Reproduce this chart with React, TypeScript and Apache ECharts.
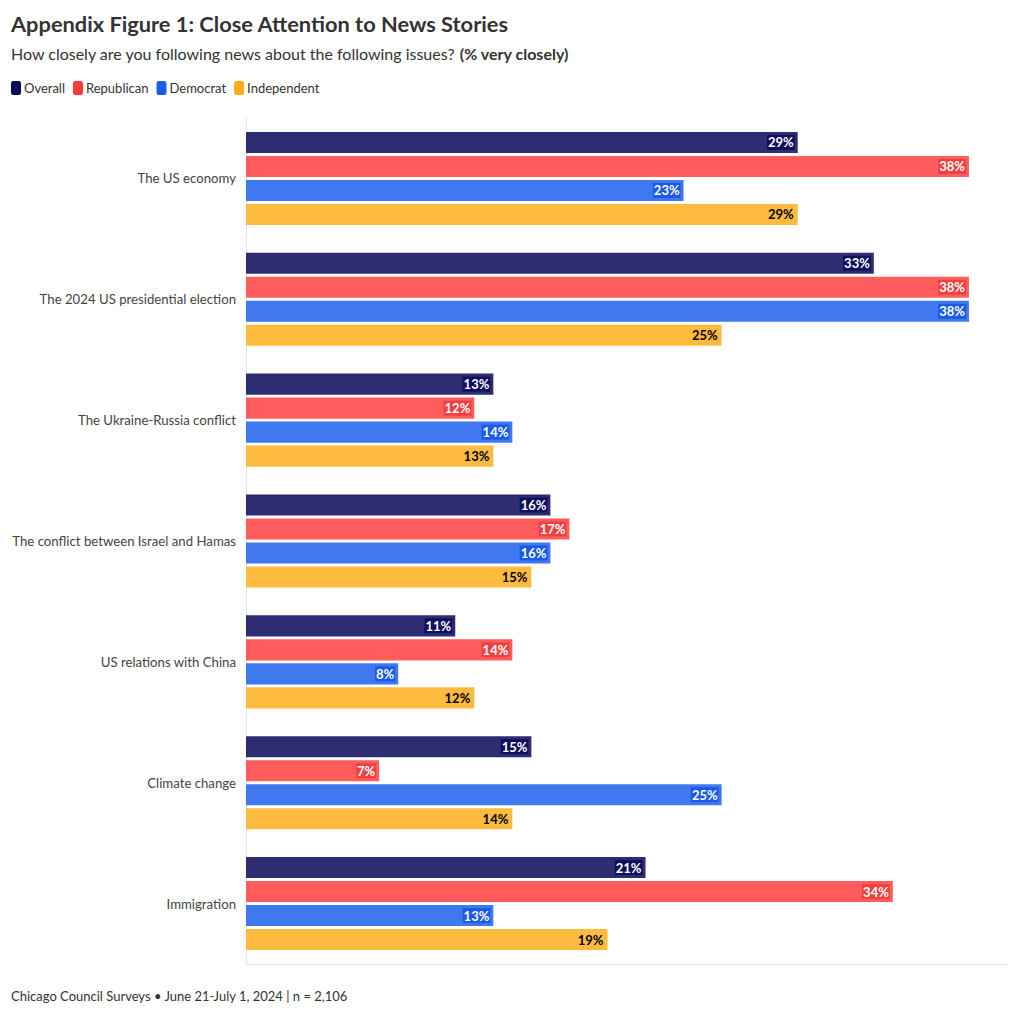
import React, { useEffect, useRef } from "react";
import * as echarts from "echarts";

const categories = [
  "The US economy",
  "The 2024 US presidential election",
  "The Ukraine-Russia conflict",
  "The conflict between Israel and Hamas",
  "US relations with China",
  "Climate change",
  "Immigration",
];
const overall = [29, 33, 13, 16, 11, 15, 21];
const republican = [38, 38, 12, 17, 14, 7, 34];
const democrat = [23, 38, 14, 16, 8, 25, 13];
const independent = [29, 25, 13, 15, 12, 14, 19];

const seriesNames = ["Overall", "Republican", "Democrat", "Independent"];
const seriesData = [overall, republican, democrat, independent];
const legendColors = ["#0b0b55", "#f83c3c", "#1d5de8", "#ffae1a"];
const barColors = ["#2e2d72", "#ff5d5d", "#4079ef", "#ffbb40"];
const labelBg = ["#0f0f5e", "#f0403f", "#1a5ae8", "#ffbb40"];
const labelColors = ["#ffffff", "#ffffff", "#ffffff", "#000000"];

const FONT = "Lato, 'Noto Sans', sans-serif";

export default function App() {
  const ref = useRef<HTMLDivElement>(null);
  useEffect(() => {
    if (!ref.current) return;
    const chart = echarts.init(ref.current, null, { renderer: "svg" });
    chart.setOption({
      animation: false,
      textStyle: { fontFamily: FONT },
      color: legendColors,
      title: [
        {
          text: "Appendix Figure 1: Close Attention to News Stories",
          left: 11,
          top: 12,
          padding: 0,
          textStyle: { fontFamily: FONT, fontSize: 21.8, fontWeight: "bold", color: "#333333" },
        },
        {
          text: "How closely are you following news about the following issues? {b|(% very closely)}",
          left: 11,
          top: 45,
          padding: 0,
          textStyle: {
            fontFamily: FONT,
            fontSize: 16,
            fontWeight: "normal",
            color: "#333333",
            rich: { b: { fontFamily: FONT, fontSize: 16, fontWeight: "bold", color: "#333333" } },
          },
        },
        {
          text: "Chicago Council Surveys • June 21-July 1, 2024 | n = 2,106",
          left: 11,
          top: 989,
          padding: 0,
          textStyle: { fontFamily: FONT, fontSize: 13, fontWeight: "normal", color: "#333333" },
        },
      ],
      legend: {
        left: 11,
        top: 81,
        padding: 0,
        icon: "roundRect",
        itemWidth: 10,
        itemHeight: 14,
        itemGap: 8,
        textStyle: { fontFamily: FONT, fontSize: 13, color: "#333333", padding: [0, 0, 0, -2] },
        data: seriesNames.map((name, i) => ({ name, itemStyle: { color: legendColors[i] } })),
      },
      grid: { left: 246, right: 13, top: 118, bottom: 50, containLabel: false },
      xAxis: {
        type: "value",
        min: 0,
        max: 40,
        axisLabel: { show: false },
        splitLine: { show: false },
        axisTick: { show: false },
        axisLine: { show: true, lineStyle: { color: "#e6e6e6" } },
      },
      yAxis: {
        type: "category",
        inverse: true,
        data: categories,
        axisTick: { show: false },
        axisLine: { show: true, lineStyle: { color: "#e6e6e6" } },
        axisLabel: { fontFamily: FONT, fontSize: 13.2, color: "#444444", margin: 10 },
      },
      series: seriesNames.map((name, i) => ({
        name,
        type: "bar",
        data: seriesData[i],
        barCategoryGap: "23%",
        barGap: "14%",
        itemStyle: { color: barColors[i] },
        label: {
          show: true,
          position: "insideRight",
          distance: 3,
          formatter: "{c}%",
          fontFamily: FONT,
          fontSize: 13,
          fontWeight: "bold",
          color: labelColors[i],
          backgroundColor: labelBg[i],
          padding: [1, 1],
        },
      })),
    });
    return () => chart.dispose();
  }, []);
  return <div ref={ref} style={{ width: 1020, height: 1014, margin: -8 }} />;
}
